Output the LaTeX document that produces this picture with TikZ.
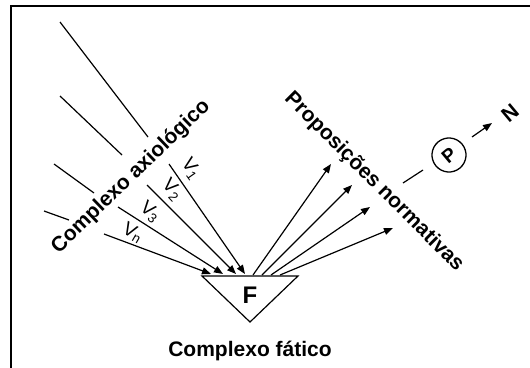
\documentclass[tikz,border=0pt]{standalone}
\usepackage{fontspec}
\setmainfont{Liberation Sans}
\usetikzlibrary{arrows.meta}

\begin{document}
\begin{tikzpicture}[x=1pt,y=-1pt,line width=1.2pt,
    >={Triangle[length=9pt,width=7pt]},
    bigtext/.style={font=\fontsize{21}{24}\selectfont\bfseries},
    vlabel/.style={font=\fontsize{19}{22}\selectfont}]

      \useasboundingbox (0,0) rectangle (530,367);

      % moldura (só o topo e a esquerda)
      \coordinate (m1) at (11,368);
      \coordinate (m2) at (11,6);
      \coordinate (m3) at (531,6);
      \draw[line width=2pt] (m1) -- (m2) -- (m3);

      % triângulo do complexo fático
      \coordinate (fl) at (202,276);
      \coordinate (fr) at (298,276);
      \coordinate (fb) at (250,322);
      \draw (fl) -- (fr) -- (fb) -- cycle;
      \node[font=\fontsize{24}{28}\selectfont\bfseries] (F) at (250,295) {F};
      \node[bigtext,anchor=base] (fatico) at (250,356) {Complexo fático};

      % valores que chegam ao F
      \coordinate (v1s) at (169,164);  \coordinate (v1e) at (245,274);
      \coordinate (v2s) at (147,185);  \coordinate (v2e) at (236,274);
      \coordinate (v3s) at (118,207);  \coordinate (v3e) at (223,274);
      \coordinate (vns) at (104,234);  \coordinate (vne) at (211,274);
      \draw[->] (v1s) -- (v1e);
      \draw[->] (v2s) -- (v2e);
      \draw[->] (v3s) -- (v3e);
      \draw[->] (vns) -- (vne);
      \node[vlabel,rotate=-55] (lv1) at (191,169) {V\textsubscript{1}};
      \node[vlabel,rotate=-47] (lv2) at (172,190) {V\textsubscript{2}};
      \node[vlabel,rotate=-40] (lv3) at (150,212) {V\textsubscript{3}};
      \node[vlabel,rotate=-30] (lvn) at (133,233) {V\textsubscript{n}};

      % prolongamentos acima do rótulo
      \coordinate (l1a) at (60,22);   \coordinate (l1b) at (148,137);
      \coordinate (l2a) at (60,96);   \coordinate (l2b) at (122,155);
      \coordinate (l3a) at (54,164);  \coordinate (l3b) at (94,193);
      \coordinate (l4a) at (44,211);  \coordinate (l4b) at (69,220);
      \draw (l1a) -- (l1b);
      \draw (l2a) -- (l2b);
      \draw (l3a) -- (l3b);
      \draw (l4a) -- (l4b);
      \node[bigtext,rotate=44] (axio) at (131,177) {Complexo axiológico};

      % proposições que saem do F
      \coordinate (p1s) at (253,275);  \coordinate (p1e) at (331,164);
      \coordinate (p2s) at (262,275);  \coordinate (p2e) at (352,185);
      \coordinate (p3s) at (271,275);  \coordinate (p3e) at (370,207);
      \coordinate (p4s) at (280,275);  \coordinate (p4e) at (393,228);
      \draw[->] (p1s) -- (p1e);
      \draw[->] (p2s) -- (p2e);
      \draw[->] (p3s) -- (p3e);
      \draw[->] (p4s) -- (p4e);
      \node[bigtext,rotate=-45] (normas) at (374,182) {Proposições normativas};

      % P e N
      \coordinate (q1) at (403,183);
      \coordinate (q2) at (423,170);
      \draw (q1) -- (q2);
      \node[draw,circle,minimum size=34pt,inner sep=0pt,line width=1.3pt,
            font=\fontsize{19}{22}\selectfont\bfseries,rotate=40] (P) at (449,155) {P};
      \coordinate (q3) at (472,137);
      \coordinate (q4) at (492,123);
      \draw[->] (q3) -- (q4);
      \node[font=\fontsize{21}{24}\selectfont\bfseries,rotate=40] (N) at (510,113) {N};

    \end{tikzpicture}
\end{document}
